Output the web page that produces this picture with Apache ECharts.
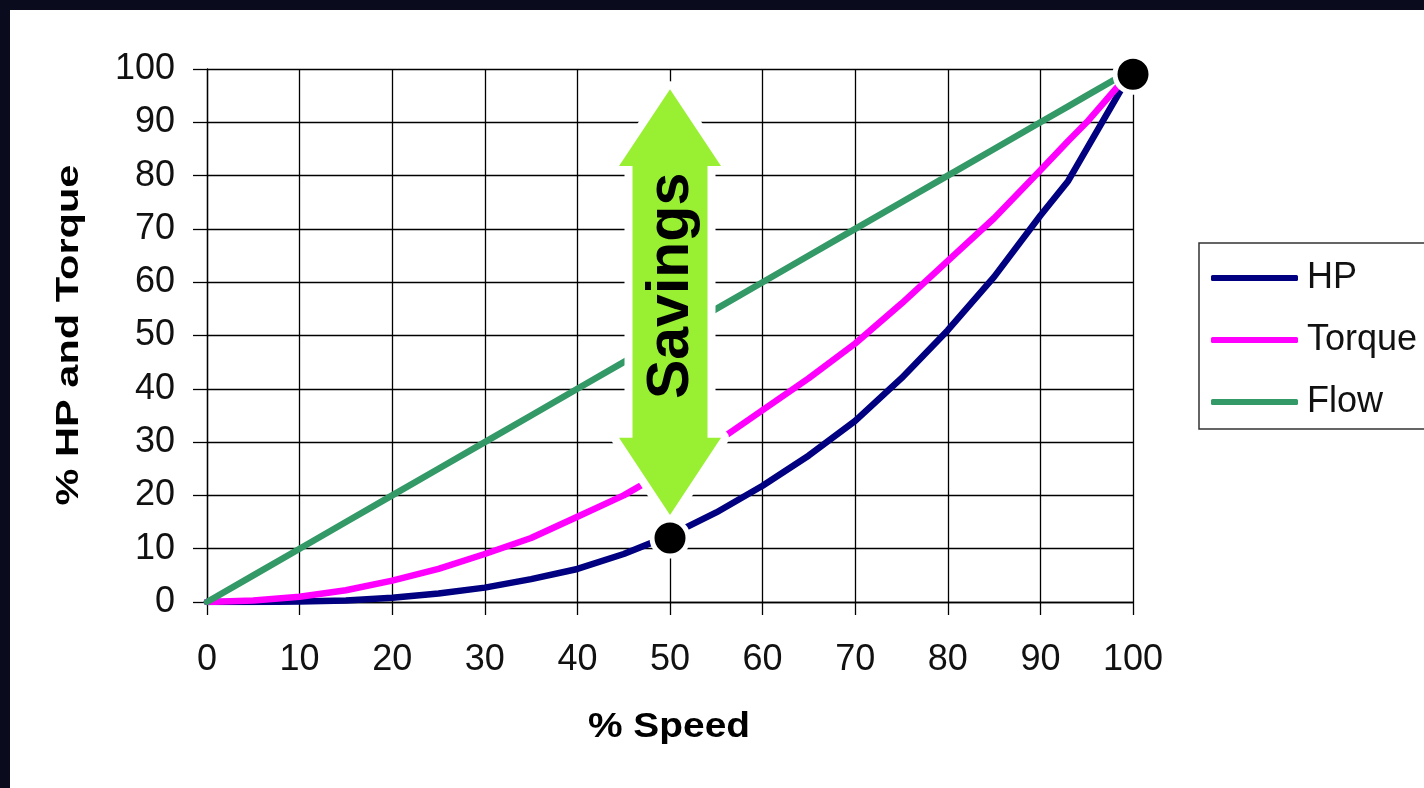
<!DOCTYPE html>
<html>
<head>
<meta charset="utf-8">
<script src="https://cdn.jsdelivr.net/npm/echarts@6/dist/echarts.min.js"></script>
<style>
  html, body { margin: 0; padding: 0; width: 1424px; height: 788px; background: #0b0b1e; overflow: hidden; }
  #chart { position: absolute; left: 10px; top: 10px; width: 1414px; height: 778px; background: #ffffff; }
</style>
</head>
<body>
<div id="chart"></div>
<script>
// ---- data ----
const speed  = [0, 5, 10, 15, 20, 25, 30, 35, 40, 45, 50, 55, 60, 65, 70, 75, 80, 85, 90, 93, 95, 100];
const hp     = [0, 0, 0.1, 0.3, 0.8, 1.6, 2.7, 4.3, 6.2, 9, 12.5, 16.8, 21.8, 27.5, 34, 42, 51, 61, 72.5, 79, 85, 100];
const torque = [0, 0.3, 1, 2.2, 4, 6.2, 9, 12, 16, 20, 25, 30, 36, 42, 48.5, 56, 64, 72, 81, 86.5, 90, 100];
const flow   = [0, 5, 10, 15, 20, 25, 30, 35, 40, 45, 50, 55, 60, 65, 70, 75, 80, 85, 90, 93, 95, 100];
const seriesNames = ['HP', 'Torque', 'Flow'];
const xTicks = [0, 10, 20, 30, 40, 50, 60, 70, 80, 90, 100];
const yTicks = [0, 10, 20, 30, 40, 50, 60, 70, 80, 90, 100];
const markerPoints = [[50, 12], [100, 99]];
// Savings arrow (in data units): x, top tip, top head base, bottom head base, bottom tip
const savingsArrow = { x: 50, tip: 96.2, headTop: 81.8, headBot: 30.8, bottom: 16.3, labelY: 59.3 };
const xTitle = '% Speed';
const yTitle = '% HP and Torque';
const arrowText = 'Savings';

const FONT = "'Liberation Sans', Arial, Helvetica, sans-serif";
const pairs = (xs, ys) => xs.map((x, i) => [x, ys[i]]);

const chart = echarts.init(document.getElementById('chart'), null, { renderer: 'canvas' });

const lineSeries = (name, values, color) => ({
  name, type: 'line', data: pairs(speed, values), symbol: 'none', showSymbol: false, smooth: false, z: 5,
  lineStyle: { color, width: 6.5, cap: 'round', join: 'round' },
  itemStyle: { color }
});

chart.setOption({
  animation: false,
  backgroundColor: '#ffffff',
  grid: { left: 197, top: 59, right: 291, bottom: 186, containLabel: false },
  xAxis: {
    type: 'value', min: xTicks[0], max: xTicks[xTicks.length - 1], interval: 10,
    axisLine: { show: true, lineStyle: { color: '#000', width: 1.3 } },
    axisTick: { show: true, inside: false, length: 13, lineStyle: { color: '#000', width: 1.3 } },
    axisLabel: { margin: 40, fontSize: 36, color: '#111', fontFamily: FONT },
    splitLine: { show: true, showMinLine: true, showMaxLine: true, lineStyle: { color: '#000', width: 1.3 } }
  },
  yAxis: {
    type: 'value', min: yTicks[0], max: yTicks[yTicks.length - 1], interval: 10,
    axisLine: { show: true, lineStyle: { color: '#000', width: 1.3 } },
    axisTick: { show: true, inside: false, length: 14, lineStyle: { color: '#000', width: 1.3 } },
    axisLabel: { margin: 32, fontSize: 36, color: '#111', fontFamily: FONT },
    splitLine: { show: true, showMinLine: true, showMaxLine: true, lineStyle: { color: '#000', width: 1.3 } }
  },
  legend: {
    data: seriesNames.map(n => ({ name: n, icon: 'roundRect' })),
    orient: 'vertical',
    left: 1189, top: 233,
    padding: [17, 30, 9, 12],
    itemGap: 26,
    itemWidth: 87, itemHeight: 6,
    backgroundColor: '#fff',
    borderColor: '#333', borderWidth: 1.5,
    textStyle: { fontSize: 36, color: '#111', fontFamily: FONT, padding: [0, 0, 0, 4] }
  },
  series: [
    lineSeries('HP', hp, '#000080'),
    lineSeries('Torque', torque, '#ff00ff'),
    lineSeries('Flow', flow, '#339966'),
    {
      name: 'markers', type: 'scatter', data: markerPoints, symbol: 'circle', symbolSize: 36, z: 60,
      clip: false,
      itemStyle: { color: '#000', opacity: 1, borderColor: '#fff', borderWidth: 5 }
    }
  ]
});

function drawAnnotations() {
  const p = v => chart.convertToPixel({ xAxisIndex: 0, yAxisIndex: 0 }, v);
  const a = savingsArrow;
  const cx = p([a.x, 0])[0];
  const yTip = p([a.x, a.tip])[1], yHT = p([a.x, a.headTop])[1];
  const yHB = p([a.x, a.headBot])[1], yBot = p([a.x, a.bottom])[1];
  const hw = 51, sw = 37.5;
  const pts = [
    [cx, yTip], [cx + hw, yHT], [cx + sw, yHT], [cx + sw, yHB], [cx + hw, yHB],
    [cx, yBot], [cx - hw, yHB], [cx - sw, yHB], [cx - sw, yHT], [cx - hw, yHT]
  ];
  const labelPos = p([a.x, a.labelY]);
  chart.setOption({
    graphic: [
      { type: 'polygon', z: 40, shape: { points: pts }, style: { fill: '#fff', stroke: '#fff', lineWidth: 16, lineJoin: 'round' }, silent: true },
      { type: 'polygon', z: 41, shape: { points: pts }, style: { fill: '#99f032' }, silent: true },
      { type: 'text', z: 42, x: labelPos[0] + 2, y: labelPos[1], rotation: Math.PI / 2,
        style: { text: arrowText, fontSize: 59, fontWeight: 'bold', fontFamily: FONT, fill: '#000', align: 'center', verticalAlign: 'middle' }, silent: true },
      { type: 'text', z: 42, x: 59, y: 325, rotation: Math.PI / 2, scaleX: 1.34, scaleY: 1,
        style: { text: yTitle, fontSize: 31, fontWeight: 'bold', fontFamily: FONT, fill: '#000', align: 'center', verticalAlign: 'middle' }, silent: true },
      { type: 'text', z: 42, x: 659, y: 717, scaleX: 1.11, scaleY: 1,
        style: { text: xTitle, fontSize: 35, fontWeight: 'bold', fontFamily: FONT, fill: '#000', align: 'center', verticalAlign: 'middle' }, silent: true }
    ]
  });
}
drawAnnotations();
</script>
</body>
</html>
